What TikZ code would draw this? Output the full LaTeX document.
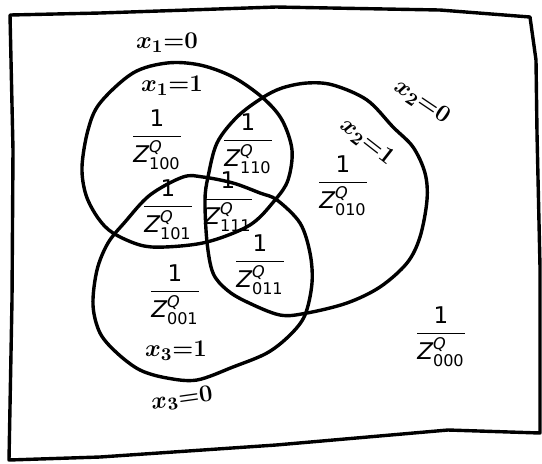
\documentclass[tikz,border=0pt]{standalone}
\usepackage{amsmath}
\usepackage{fontspec}
\setmainfont{DejaVu Sans}
\usepackage{tikz}
\tikzset{
    trazo/.style={
        line width=1.7pt,
        line join=round,
        line cap=round
    },
    peso/.style={
        inner sep=0pt,
        font=\fontsize{11.5}{13}\selectfont
    },
    mano/.style={
        inner sep=0pt,
        font=\fontsize{12.5}{14}\selectfont\boldmath
    }
}
\newcommand{\pesoZ}[1]{$\dfrac{\text{1}}{\text{\itshape Z}^{\text{\itshape Q}}_{\text{#1}}}$}

\begin{document}
\begin{tikzpicture}[
    x=0.5pt,
    y=-0.5pt
]
    \useasboundingbox (0,0) rectangle (542,463);

    % Marco
    \draw[trazo] (10,15) -- (100,13) -- (276,7) -- (440,10) -- (530,17)
        -- (536,60) -- (537,133) -- (540,267) -- (540,433)
        -- (448,430) -- (276,445) -- (100,457) -- (9,460)
        -- (12,300) -- (13,150) -- cycle;

    % Conjuntos
    \draw[trazo] plot[smooth cycle, tension=0.55] coordinates {
        (100,103) (133,73) (167,63) (200,65) (233,77) (263,98)
        (282,120) (292,150) (288,180) (275,200) (250,225) (207,242)
        (165,247) (140,245) (113,233) (98,218) (86,195) (82,167) (88,130)
    };
    \draw[trazo] plot[smooth cycle, tension=0.55] coordinates {
        (307,83) (333,85) (367,100) (393,127) (413,147) (425,173)
        (427,200) (420,237) (407,263) (380,287) (347,303) (307,313)
        (280,315) (247,302) (227,290) (213,273) (207,242) (205,200)
        (208,177) (217,143) (237,117) (262,98) (282,88)
    };
    \draw[trazo] plot[smooth cycle, tension=0.55] coordinates {
        (183,177) (203,177) (233,183) (260,193) (277,200) (300,223)
        (310,253) (312,283) (305,315) (290,335) (267,353) (233,367)
        (197,380) (167,378) (140,370) (117,353) (100,333) (93,305)
        (97,270) (108,243) (125,222) (150,195)
    };

    % Etiquetas
    \node[mano]             (xa0) at (167,43)  {$x_1{=}0$};
    \node[mano]             (xa1) at (172,86)  {$x_1{=}1$};
    \node[mano, rotate=-34] (xb0) at (422,102) {$x_2{=}0$};
    \node[mano, rotate=-38] (xb1) at (367,142) {$x_2{=}1$};
    \node[mano]             (xc1) at (176,351) {$x_3{=}1$};
    \node[mano, rotate=8]   (xc0) at (182,399) {$x_3{=}0$};

    % Pesos
    \node[peso] (z100) at (157,140) {\pesoZ{100}};
    \node[peso] (z110) at (248,144) {\pesoZ{110}};
    \node[peso] (z010) at (343,186) {\pesoZ{010}};
    \node[peso] (z101) at (168,210) {\pesoZ{101}};
    \node[peso] (z111) at (228,202) {\pesoZ{111}};
    \node[peso] (z011) at (260,265) {\pesoZ{011}};
    \node[peso] (z001) at (175,295) {\pesoZ{001}};
    \node[peso] (z000) at (441,337) {\pesoZ{000}};

\end{tikzpicture}
\end{document}
